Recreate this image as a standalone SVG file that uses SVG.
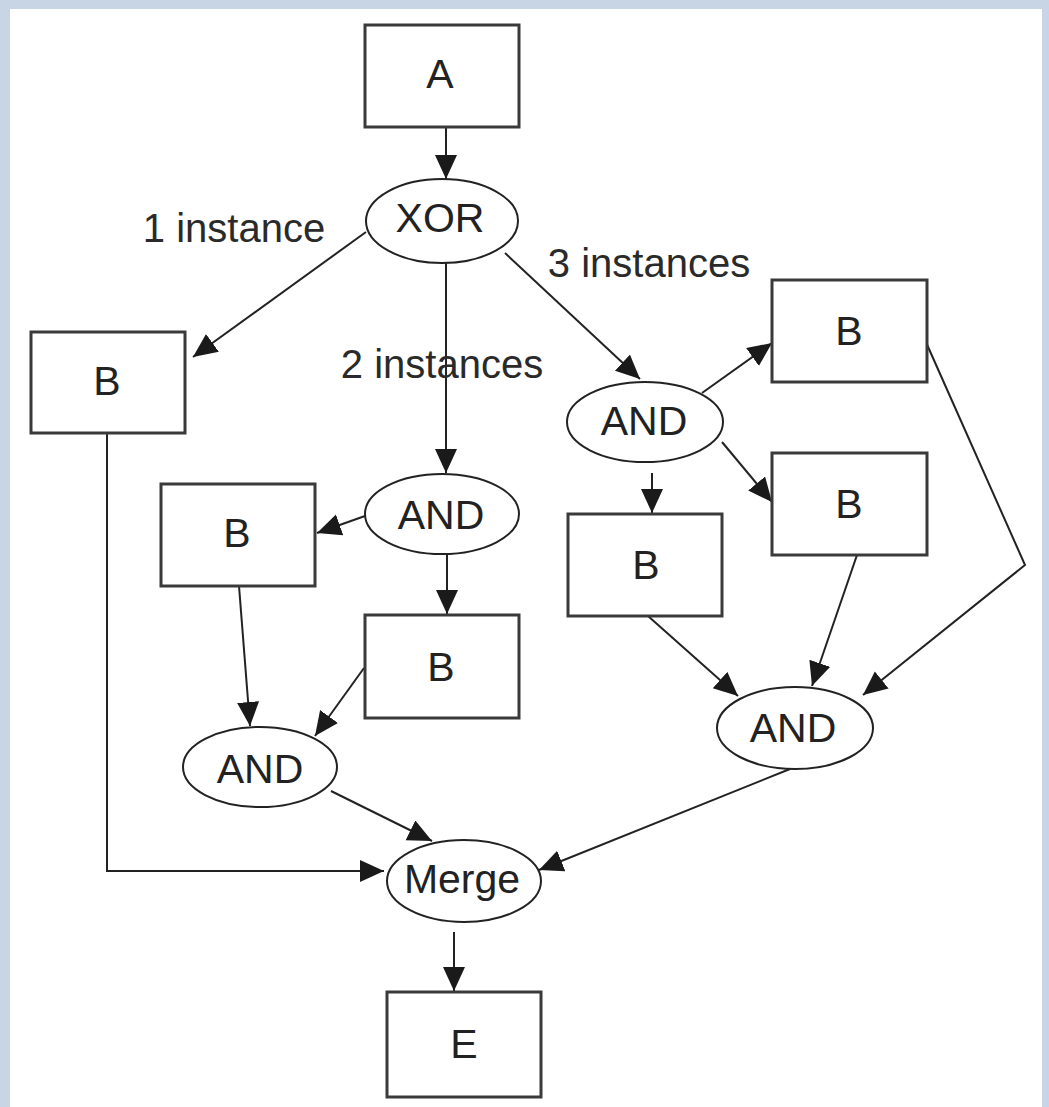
<svg xmlns="http://www.w3.org/2000/svg" width="1049" height="1107" viewBox="0 0 1049 1107">
  <style>
    .box { fill: #ffffff; stroke: #3a3a3a; stroke-width: 3; }
    .gate { fill: #ffffff; stroke: #222222; stroke-width: 2; }
    .lbl { font-family: "Liberation Sans", Arial, sans-serif; font-size: 41px; fill: #222222; text-anchor: middle; }
    .note { font-family: "Liberation Sans", Arial, sans-serif; font-size: 40px; fill: #2a2a2a; text-anchor: middle; }
    .edge { fill: none; stroke: #222222; stroke-width: 2; marker-end: url(#arrow); }
  </style>
  <defs>
    <marker id="arrow" markerUnits="userSpaceOnUse" markerWidth="26" markerHeight="24" refX="24" refY="11" orient="auto">
      <path d="M0,0 L24,11 L0,22 z" fill="#1a1a1a"/>
    </marker>
  </defs>

  <!-- frame -->
  <rect x="0" y="0" width="1049" height="1107" fill="#c8d5e5"/>
  <rect x="10" y="9" width="1032" height="1098" fill="#ffffff"/>

  <!-- connectors -->
  <g id="connectors">
    <line class="edge" x1="446" y1="127" x2="446" y2="179"/>
    <line class="edge" x1="366" y1="232" x2="193" y2="357"/>
    <polyline class="edge" points="107,433 107,871 384,871"/>
    <line class="edge" x1="446" y1="262" x2="446" y2="473"/>
    <line class="edge" x1="365" y1="516" x2="317" y2="533"/>
    <line class="edge" x1="447" y1="555" x2="447" y2="614"/>
    <line class="edge" x1="239" y1="586" x2="250" y2="726"/>
    <line class="edge" x1="364" y1="668" x2="315" y2="736"/>
    <line class="edge" x1="331" y1="791" x2="432" y2="841"/>
    <line class="edge" x1="505" y1="253" x2="640" y2="379"/>
    <line class="edge" x1="702" y1="393" x2="772" y2="343"/>
    <line class="edge" x1="722" y1="442" x2="772" y2="502"/>
    <line class="edge" x1="652" y1="473" x2="652" y2="513"/>
    <line class="edge" x1="648" y1="616" x2="738" y2="696"/>
    <line class="edge" x1="857" y1="555" x2="812" y2="686"/>
    <polyline class="edge" points="921,331 1025,565 863,695"/>
    <line class="edge" x1="790" y1="769" x2="539" y2="870"/>
    <line class="edge" x1="454" y1="932" x2="454" y2="991"/>
  </g>

  <!-- branch labels -->
  <g id="labels">
    <text class="note" x="234" y="242">1 instance</text>
    <text class="note" x="442" y="378">2 instances</text>
    <text class="note" x="649" y="277">3 instances</text>
  </g>

  <!-- nodes -->
  <g id="node-a">
    <rect class="box" x="365" y="25" width="154" height="102"/>
    <text class="lbl" x="440" y="88">A</text>
  </g>
  <g id="node-xor">
    <ellipse class="gate" cx="442" cy="221" rx="76" ry="42"/>
    <text class="lbl" x="440" y="232">XOR</text>
  </g>
  <g id="node-b1">
    <rect class="box" x="31" y="332" width="154" height="101"/>
    <text class="lbl" x="107" y="395">B</text>
  </g>
  <g id="node-and2">
    <ellipse class="gate" cx="442" cy="514" rx="77" ry="40"/>
    <text class="lbl" x="441" y="529">AND</text>
  </g>
  <g id="node-b2a">
    <rect class="box" x="161" y="484" width="154" height="102"/>
    <text class="lbl" x="237" y="547">B</text>
  </g>
  <g id="node-b2b">
    <rect class="box" x="365" y="615" width="154" height="103"/>
    <text class="lbl" x="441" y="681">B</text>
  </g>
  <g id="node-and2-join">
    <ellipse class="gate" cx="260" cy="767" rx="77" ry="40"/>
    <text class="lbl" x="260" y="783">AND</text>
  </g>
  <g id="node-and3">
    <ellipse class="gate" cx="645" cy="422" rx="78" ry="40"/>
    <text class="lbl" x="644" y="435">AND</text>
  </g>
  <g id="node-b3a">
    <rect class="box" x="772" y="280" width="155" height="102"/>
    <text class="lbl" x="849" y="345">B</text>
  </g>
  <g id="node-b3b">
    <rect class="box" x="772" y="453" width="155" height="102"/>
    <text class="lbl" x="849" y="518">B</text>
  </g>
  <g id="node-b3c">
    <rect class="box" x="568" y="514" width="154" height="102"/>
    <text class="lbl" x="646" y="579">B</text>
  </g>
  <g id="node-and3-join">
    <ellipse class="gate" cx="795" cy="728" rx="78" ry="41"/>
    <text class="lbl" x="793" y="742">AND</text>
  </g>
  <g id="node-merge">
    <ellipse class="gate" cx="464" cy="881" rx="77" ry="41"/>
    <text class="lbl" x="462" y="893">Merge</text>
  </g>
  <g id="node-e">
    <rect class="box" x="387" y="992" width="154" height="105"/>
    <text class="lbl" x="464" y="1058">E</text>
  </g>
</svg>
